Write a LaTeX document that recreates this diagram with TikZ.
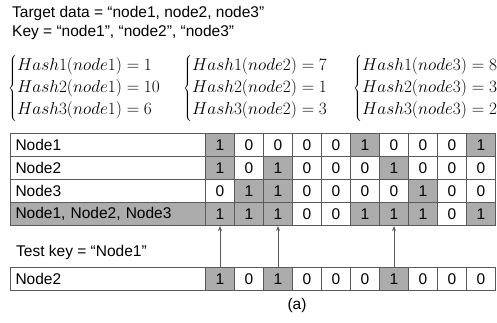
\documentclass[tikz,border=0pt]{standalone}
\usepackage{fontspec}
\setsansfont{Liberation Sans}
\usetikzlibrary{arrows.meta}
\definecolor{cellgray}{RGB}{172,172,172}
\definecolor{linegray}{RGB}{90,90,90}

\begin{document}
\begin{tikzpicture}[
  x=1pt, y=-1pt,
  font=\sffamily\fontsize{15.5}{18}\selectfont,
  txt/.style={anchor=west,inner sep=0pt},
  cell/.style={draw=linegray,line width=1pt,minimum width=29pt,minimum height=23pt,inner sep=0pt,anchor=north west},
  bit0/.style={cell},
  bit1/.style={cell,fill=cellgray},
  namecell/.style={cell,minimum width=195pt,text width=185pt,align=left},
  eqn/.style={anchor=west,inner sep=0pt,font=\fontsize{16}{20}\selectfont\def\arraystretch{1.12}},
  arrow/.style={-{Stealth[length=5pt,width=4pt]},draw=linegray,line width=0.8pt},
]
  \useasboundingbox (0,0) rectangle (497,322);

  \node[txt] (target) at (12,13) {Target data = “node1, node2, node3”};
  \node[txt] (key) at (12,32) {Key = “node1”, “node2”, “node3”};

  \node[eqn] (h1) at (8,88) {$\left\{\begin{array}{@{}l@{}} Hash1(node1) = 1\\ Hash2(node1) = 10\\ Hash3(node1) = 6\end{array}\right.$};
  \node[eqn] (h2) at (183,88) {$\left\{\begin{array}{@{}l@{}} Hash1(node2) = 7\\ Hash2(node2) = 1\\ Hash3(node2) = 3\end{array}\right.$};
  \node[eqn] (h3) at (353,88) {$\left\{\begin{array}{@{}l@{}} Hash1(node3) = 8\\ Hash2(node3) = 3\\ Hash3(node3) = 2\end{array}\right.$};

  % filter table
  \node[namecell] (n1) at (10,133) {Node1};
  \node[namecell] (n2) at (10,156) {Node2};
  \node[namecell] (n3) at (10,179) {Node3};
  \node[namecell,fill=cellgray] (n4) at (10,202) {Node1, Node2, Node3};
  \foreach \b [count=\c] in {1,0,0,0,0,1,0,0,0,1}
    \node[bit\b] (a\c) at ({205+29*(\c-1)},133) {\b};
  \foreach \b [count=\c] in {1,0,1,0,0,0,1,0,0,0}
    \node[bit\b] (b\c) at ({205+29*(\c-1)},156) {\b};
  \foreach \b [count=\c] in {0,1,1,0,0,0,0,1,0,0}
    \node[bit\b] (c\c) at ({205+29*(\c-1)},179) {\b};
  \foreach \b [count=\c] in {1,1,1,0,0,1,1,1,0,1}
    \node[bit\b] (d\c) at ({205+29*(\c-1)},202) {\b};

  % test key
  \node[txt] (test) at (16,252) {Test key = “Node1”};
  \node[namecell] (m) at (10,267) {Node2};
  \foreach \b [count=\c] in {1,0,1,0,0,0,1,0,0,0}
    \node[bit\b] (t\c) at ({205+29*(\c-1)},267) {\b};

  \foreach \c in {1,3,7}
    \draw[arrow] (t\c.north) -- (d\c.south);

  \node[inner sep=0pt] (cap) at (297,305) {(a)};
\end{tikzpicture}
\end{document}
